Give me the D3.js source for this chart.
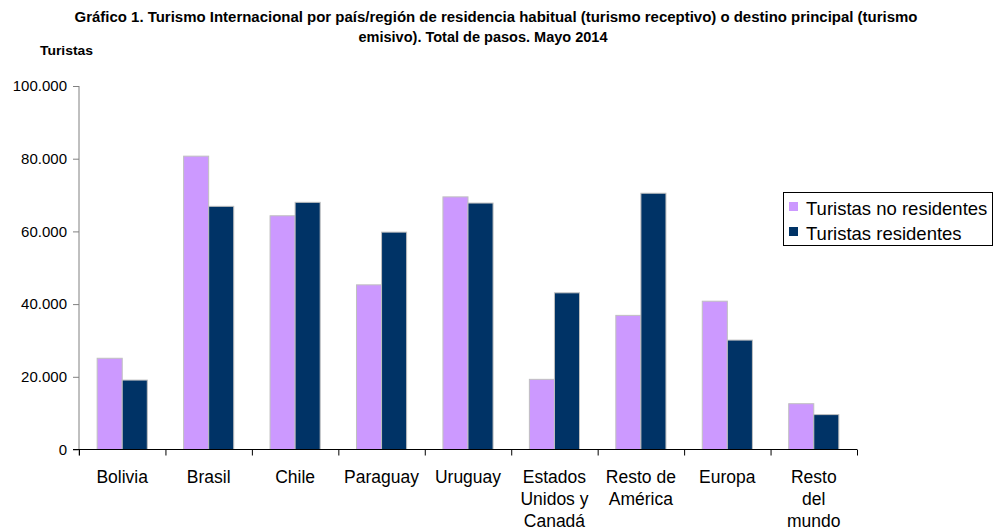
<!DOCTYPE html>
<html><head><meta charset="utf-8">
<script src="https://cdn.jsdelivr.net/npm/d3@7"></script>
<style>body{margin:0;background:#fff}svg{display:block;font-family:"Liberation Sans",Arial,sans-serif}</style>
</head><body><svg id="c" width="994" height="531"></svg>
<script>
const categories = [["Bolivia"],["Brasil"],["Chile"],["Paraguay"],["Uruguay"],["Estados","Unidos y","Canadá"],["Resto de","América"],["Europa"],["Resto","del","mundo"]];
const noResidentes = [25100, 80700, 64300, 45300, 69500, 19300, 36900, 40800, 12600];
const residentes = [19100, 66900, 68000, 59800, 67800, 43100, 70500, 30100, 9600];
const seriesNames = ["Turistas no residentes","Turistas residentes"];
const colors = ["#CC99FF","#003366"];
const yTicks = [0,20000,40000,60000,80000,100000];

const svg = d3.select("#c");
const x0 = 79, x1 = 857, yTop = 86, yBot = 449.5;
const x = d3.scaleBand().domain(d3.range(categories.length)).range([x0,x1]).paddingInner(0.42).paddingOuter(0.21);
const xs = d3.scaleBand().domain([0,1]).range([0,x.bandwidth()]);
const y = d3.scaleLinear().domain([0,100000]).range([yBot,yTop]);
const fmt = v => v===0 ? "0" : d3.format(",")(v).replace(/,/g,".");

// title
const t = svg.append("text").attr("text-anchor","middle").attr("font-weight","bold").attr("font-size","14px").attr("fill","#000");
t.append("tspan").attr("x",496).attr("y",22).attr("textLength",843).attr("lengthAdjust","spacingAndGlyphs").text("Gráfico 1. Turismo Internacional por país/región de residencia habitual (turismo receptivo) o destino principal (turismo");
t.append("tspan").attr("x",483).attr("y",42).attr("textLength",249).attr("lengthAdjust","spacingAndGlyphs").text("emisivo). Total de pasos. Mayo 2014");
svg.append("text").attr("x",40).attr("y",55).attr("font-weight","bold").attr("font-size","12px").attr("textLength",53).attr("lengthAdjust","spacingAndGlyphs").text("Turistas");

// bars
const data = [noResidentes, residentes];
data.forEach((vals,si)=>{
  svg.append("g").selectAll("rect").data(vals).join("rect")
    .attr("x",(d,i)=>x(i)+xs(si)).attr("width",xs.bandwidth())
    .attr("y",d=>y(d)).attr("height",d=>yBot-y(d))
    .attr("fill",colors[si]).attr("stroke","#c0c0c0").attr("stroke-width",1);
});

// y axis
const ya = svg.append("g").attr("transform",`translate(${x0},0)`)
  .call(d3.axisLeft(y).tickValues(yTicks).tickFormat(fmt).tickSize(6).tickPadding(6));
ya.select(".domain").attr("stroke","#808080").attr("d",`M0,${yTop}V${yBot+6}`);
ya.selectAll(".tick line").attr("stroke","#808080");
ya.selectAll("text").attr("font-size","15px").attr("fill","#000").style("font-family","'Liberation Sans',Arial,sans-serif");

// x axis
const xb = d3.scaleLinear().domain([0,categories.length]).range([x0,x1]);
const xa = svg.append("g").attr("transform",`translate(0,${yBot})`)
  .call(d3.axisBottom(xb).tickValues(d3.range(categories.length+1)).tickFormat("").tickSize(6));
xa.select(".domain").attr("stroke","#000").attr("d",`M${x0-6},0H${x1}`);
xa.selectAll(".tick line").attr("stroke","#000");

// category labels
categories.forEach((lines,i)=>{
  const tx = svg.append("text").attr("text-anchor","middle").attr("font-size","17.5px").attr("fill","#000");
  lines.forEach((l,j)=>tx.append("tspan").attr("x",x(i)+x.bandwidth()/2).attr("y",483+j*22).text(l));
});

// legend
const lg = svg.append("g");
lg.append("rect").attr("x",783.5).attr("y",192.5).attr("width",209).attr("height",53).attr("fill","#fff").attr("stroke","#000").attr("stroke-width",1);
seriesNames.forEach((n,i)=>{
  lg.append("rect").attr("x",789).attr("y",202+i*25).attr("width",9).attr("height",9).attr("fill",colors[i]);
  lg.append("text").attr("x",806).attr("y",215+i*25).attr("font-size","18.5px").text(n);
});
</script></body></html>
